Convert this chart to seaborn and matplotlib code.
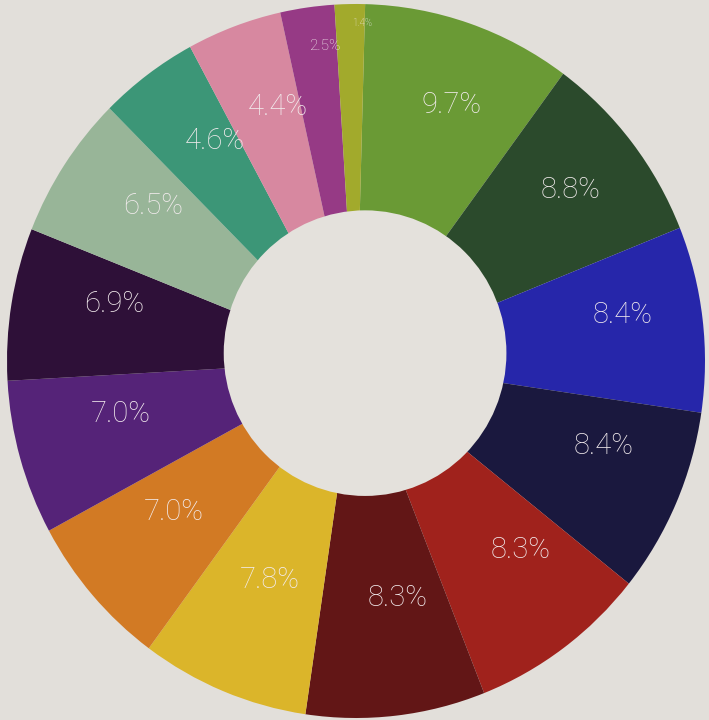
import matplotlib
matplotlib.use("Agg")
import matplotlib.pyplot as plt
from matplotlib.patches import Ellipse
import numpy as np
import seaborn as sns

# slice shares in percent, clockwise from the top
shares = [9.7, 8.8, 8.4, 8.4, 8.3, 8.3, 7.8, 7.0, 7.0, 6.9, 6.5, 4.6, 4.4, 2.5, 1.4]
labels = [f"{v:.1f}%" for v in shares]
colors = ["#6a9a35", "#2b4a2c", "#2626aa", "#1a183e", "#a0221c", "#621616",
          "#dbb52a", "#d27a24", "#552378", "#2e1038", "#98b598", "#3c9677",
          "#d788a0", "#963a85", "#a2aa2c"]

sns.set_theme(style="white")
plt.rcParams["font.family"] = ["Roboto", "DejaVu Sans"]

bg = "#e2dfda"
fig = plt.figure(figsize=(7.09, 7.2), dpi=100, facecolor=bg)
ax = fig.add_axes([0, 0, 1, 1])
ax.set_facecolor(bg)

wedges, _ = ax.pie(shares, colors=colors, startangle=88.5, counterclock=False,
                   radius=1.0, wedgeprops=dict(edgecolor="none"))

# the hole sits a little off centre in the photographed original
ax.add_patch(Ellipse((0.026, 0.022), 0.81, 0.80, facecolor="#e4e1dc",
                     edgecolor="none", zorder=3))

# labels on a ring centred on the hole
cx, cy, rx, ry = 0.034, 0.044, 0.736, 0.712
dist = [1.0] * 13 + [1.19, 1.27]
sizes = [21] * 13 + [11, 7]
for w, lab, d, s in zip(wedges, labels, dist, sizes):
    ang = np.deg2rad((w.theta1 + w.theta2) / 2)
    ax.text(cx + d * rx * np.cos(ang), cy + d * ry * np.sin(ang), lab,
            ha="center", va="center", fontsize=s, fontweight="light",
            color="#f3ecee", zorder=4)

# photo is slightly taller than wide: 349 px per unit across, 357 px down
ax.set_xlim(-356 / 349, (709 - 356) / 349)
ax.set_ylim((361 - 720) / 357, 361 / 357)
ax.set_aspect("auto")
ax.axis("off")

fig.savefig("out.png", dpi=100, facecolor=bg)
